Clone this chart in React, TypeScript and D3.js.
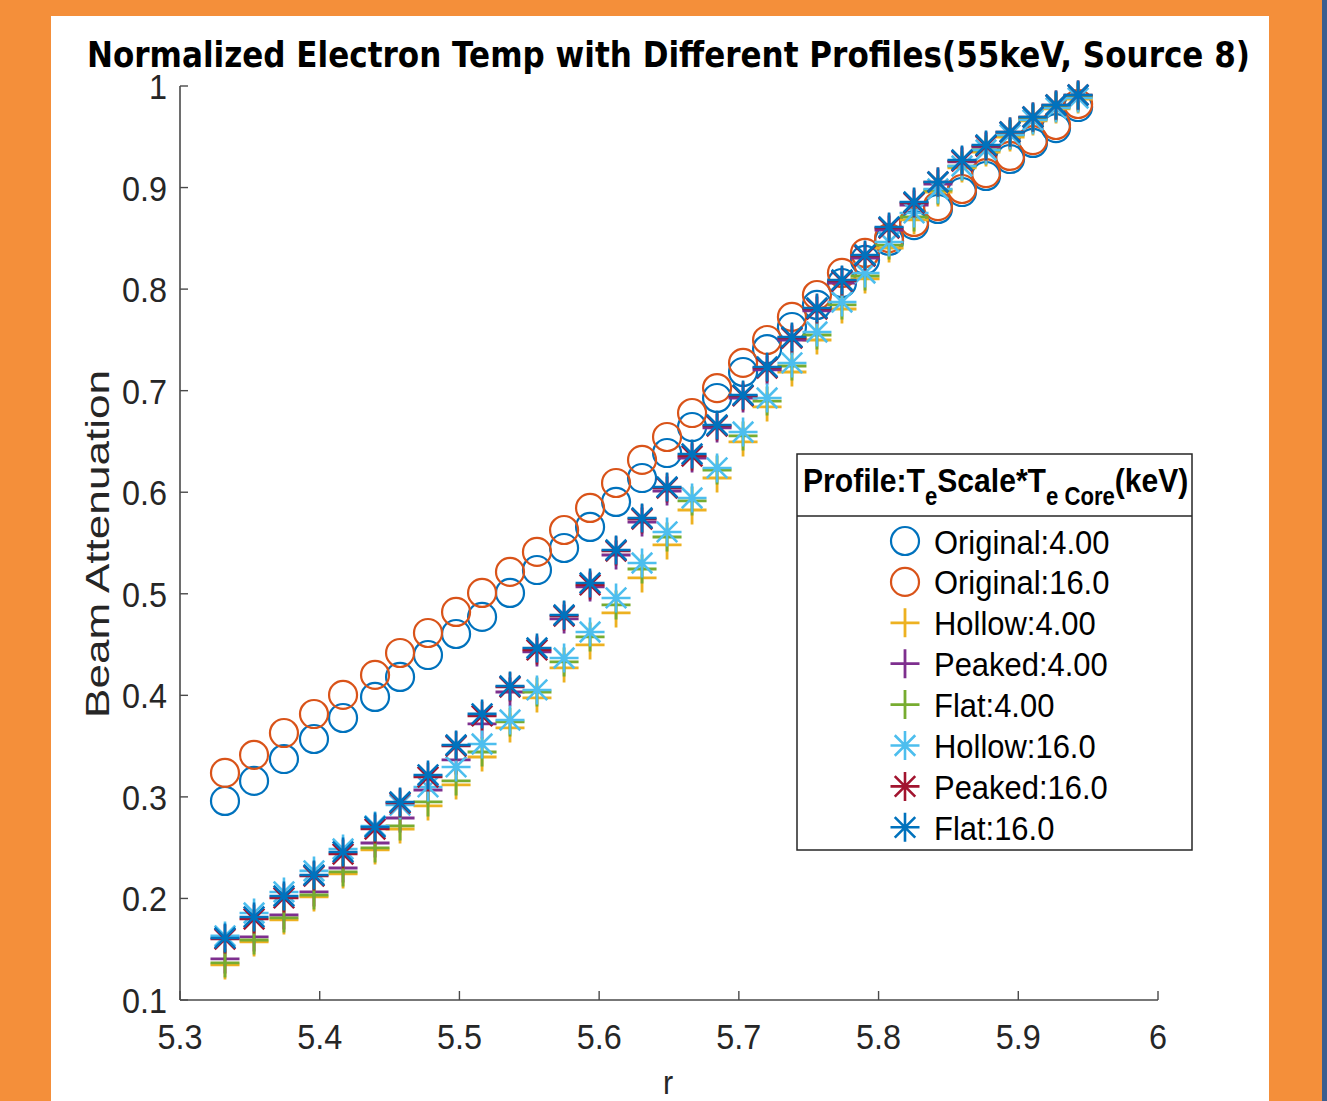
import React from "react";
import * as d3 from "d3";

// ---------- data ----------
const rValues = [5.3322, 5.3530, 5.3744, 5.3959, 5.4167, 5.4396, 5.4575, 5.4775, 5.4976, 5.5162, 5.5362, 5.5555, 5.5749, 5.5935, 5.6121, 5.6307, 5.6486, 5.6665, 5.6844, 5.7030, 5.7202, 5.7380, 5.7559, 5.7738, 5.7903, 5.8075, 5.8254, 5.8425, 5.8597, 5.8769, 5.8941, 5.9105, 5.9270, 5.9428];

const original4 = [0.2960, 0.3157, 0.3373, 0.3570, 0.3777, 0.3984, 0.4181, 0.4397, 0.4604, 0.4772, 0.5008, 0.5234, 0.5451, 0.5658, 0.5904, 0.6140, 0.6386, 0.6642, 0.6928, 0.7184, 0.7410, 0.7627, 0.7844, 0.8060, 0.8287, 0.8474, 0.8631, 0.8789, 0.8956, 0.9114, 0.9281, 0.9439, 0.9586, 0.9793];
const original16 = [0.3236, 0.3413, 0.3629, 0.3816, 0.4004, 0.4201, 0.4417, 0.4614, 0.4821, 0.5008, 0.5215, 0.5412, 0.5628, 0.5845, 0.6091, 0.6318, 0.6544, 0.6780, 0.7026, 0.7273, 0.7499, 0.7726, 0.7942, 0.8159, 0.8356, 0.8503, 0.8661, 0.8818, 0.8986, 0.9143, 0.9311, 0.9468, 0.9616, 0.9823];
const hollow4 = [0.1345, 0.1572, 0.1788, 0.2015, 0.2241, 0.2478, 0.2684, 0.2911, 0.3118, 0.3393, 0.3679, 0.3974, 0.4270, 0.4496, 0.4811, 0.5156, 0.5481, 0.5825, 0.6140, 0.6495, 0.6840, 0.7184, 0.7499, 0.7804, 0.8100, 0.8405, 0.8681, 0.8956, 0.9193, 0.9350, 0.9498, 0.9656, 0.9774, 0.9872];
const peaked4 = [0.1404, 0.1621, 0.1837, 0.2064, 0.2300, 0.2546, 0.2792, 0.3068, 0.3364, 0.3718, 0.4033, 0.4427, 0.4752, 0.5067, 0.5382, 0.5707, 0.6012, 0.6337, 0.6633, 0.6928, 0.7204, 0.7499, 0.7785, 0.8060, 0.8306, 0.8582, 0.8828, 0.9035, 0.9252, 0.9399, 0.9527, 0.9685, 0.9803, 0.9901];
const flat4 = [0.1365, 0.1591, 0.1808, 0.2034, 0.2261, 0.2497, 0.2714, 0.2950, 0.3157, 0.3442, 0.3738, 0.4033, 0.4329, 0.4575, 0.4890, 0.5244, 0.5559, 0.5914, 0.6219, 0.6554, 0.6898, 0.7243, 0.7548, 0.7844, 0.8129, 0.8434, 0.8710, 0.8976, 0.9212, 0.9370, 0.9518, 0.9675, 0.9793, 0.9892];
const hollow16 = [0.1631, 0.1857, 0.2064, 0.2271, 0.2487, 0.2714, 0.2920, 0.3098, 0.3295, 0.3521, 0.3757, 0.4053, 0.4368, 0.4624, 0.4959, 0.5303, 0.5609, 0.5943, 0.6239, 0.6593, 0.6928, 0.7273, 0.7578, 0.7873, 0.8159, 0.8464, 0.8750, 0.8986, 0.9212, 0.9370, 0.9518, 0.9665, 0.9783, 0.9882];
const peaked16 = [0.1601, 0.1798, 0.2005, 0.2221, 0.2438, 0.2684, 0.2940, 0.3196, 0.3501, 0.3797, 0.4082, 0.4447, 0.4781, 0.5087, 0.5421, 0.5736, 0.6042, 0.6357, 0.6652, 0.6948, 0.7223, 0.7519, 0.7804, 0.8080, 0.8326, 0.8602, 0.8848, 0.9055, 0.9261, 0.9409, 0.9547, 0.9695, 0.9813, 0.9911];
const flat16 = [0.1611, 0.1818, 0.2024, 0.2231, 0.2458, 0.2704, 0.2950, 0.3216, 0.3511, 0.3817, 0.4092, 0.4466, 0.4791, 0.5106, 0.5431, 0.5746, 0.6051, 0.6376, 0.6662, 0.6957, 0.7233, 0.7528, 0.7814, 0.8090, 0.8336, 0.8612, 0.8858, 0.9055, 0.9271, 0.9419, 0.9547, 0.9695, 0.9813, 0.9911];

const seriesNames = ["Original:4.00", "Original:16.0", "Hollow:4.00", "Peaked:4.00", "Flat:4.00", "Hollow:16.0", "Peaked:16.0", "Flat:16.0"];
const seriesColors = ["#0072BD", "#D95319", "#EDB120", "#7E2F8E", "#77AC30", "#4DBEEE", "#A2142F", "#0072BD"];
const seriesMarkers = ["circle", "circle", "plus", "plus", "plus", "star", "star", "star"];
const seriesValues = [original4, original16, hollow4, peaked4, flat4, hollow16, peaked16, flat16];

const xTicks = [5.3, 5.4, 5.5, 5.6, 5.7, 5.8, 5.9, 6];
const xTickLabels = ["5.3", "5.4", "5.5", "5.6", "5.7", "5.8", "5.9", "6"];
const yTicks = [0.1, 0.2, 0.3, 0.4, 0.5, 0.6, 0.7, 0.8, 0.9, 1];
const yTickLabels = ["0.1", "0.2", "0.3", "0.4", "0.5", "0.6", "0.7", "0.8", "0.9", "1"];

const titleText = "Normalized Electron Temp with Different Profiles(55keV, Source 8)";
const xLabel = "r";
const yLabel = "Beam Attenuation";

// ---------- layout ----------
const W = 1327, H = 1101;
const PL = 180, PR = 1158, PT = 86, PB = 1000;
const FONT = "'Liberation Sans', Arial, sans-serif";

function Marker({ type, color, x, y }: { type: string; color: string; x: number; y: number }) {
  const s = 14.5;
  const d = s / Math.SQRT2;
  if (type === "circle") {
    return <circle cx={x} cy={y} r={14} fill="none" stroke={color} strokeWidth={2.2} />;
  }
  if (type === "plus") {
    return <path d={`M${x - s},${y}H${x + s}M${x},${y - s}V${y + s}`} stroke={color} strokeWidth={2.8} fill="none" />;
  }
  return (
    <path
      d={`M${x - s},${y}H${x + s}M${x},${y - s}V${y + s}M${x - d},${y - d}L${x + d},${y + d}M${x - d},${y + d}L${x + d},${y - d}`}
      stroke={color}
      strokeWidth={2.6}
      fill="none"
    />
  );
}

export default function App() {
  const x = d3.scaleLinear().domain([5.3, 6]).range([PL, PR]);
  const y = d3.scaleLinear().domain([0.1, 1]).range([PB, PT]);

  const series = seriesNames.map((name, i) => ({
    name,
    color: seriesColors[i],
    marker: seriesMarkers[i],
    points: rValues.map((r, j) => ({ r, v: seriesValues[i][j] })),
  }));

  const axisColor = "#4a4a4a";
  const legendX = 797, legendY = 454, legendW = 395, legendH = 396;
  const entryY0 = 541, entryDY = 40.9;

  return (
    <svg width={W} height={H} style={{ position: "absolute", left: 0, top: 0 }} xmlns="http://www.w3.org/2000/svg">
      <rect x={0} y={0} width={W} height={H} fill="#F48F3A" />
      <rect x={1322} y={0} width={5} height={H} fill="#3B5E8E" />
      <rect x={51} y={16} width={1218} height={H - 16} fill="#ffffff" />

      {/* markers */}
      {series.map((s, i) => (
        <g key={i}>
          {s.points.map((p, j) => (
            <Marker key={j} type={s.marker} color={s.color} x={x(p.r)} y={y(p.v)} />
          ))}
        </g>
      ))}

      {/* axes */}
      <line x1={PL} y1={PT} x2={PL} y2={PB} stroke={axisColor} strokeWidth={1.6} />
      <line x1={PL} y1={PB} x2={PR} y2={PB} stroke={axisColor} strokeWidth={1.6} />
      {yTicks.map((t, i) => (
        <g key={"yt" + i}>
          <line x1={PL} x2={PL + 8} y1={y(t)} y2={y(t)} stroke={axisColor} strokeWidth={1.4} />
          <text
            transform={`translate(${PL - 13},${y(t) + 13}) scale(0.9,1)`}
            textAnchor="end"
            fontFamily={FONT}
            fontSize={36}
            fill="#262626"
          >
            {yTickLabels[i]}
          </text>
        </g>
      ))}
      {xTicks.map((t, i) => (
        <g key={"xt" + i}>
          <line x1={x(t)} x2={x(t)} y1={PB} y2={PB - 9} stroke={axisColor} strokeWidth={1.4} />
          <text
            transform={`translate(${x(t)},${PB + 49}) scale(0.9,1)`}
            textAnchor="middle"
            fontFamily={FONT}
            fontSize={36}
            fill="#262626"
          >
            {xTickLabels[i]}
          </text>
        </g>
      ))}

      {/* axis labels */}
      <text
        transform={`translate(${(PL + PR) / 2 - 1},1094) scale(0.9,1)`}
        textAnchor="middle"
        fontFamily={FONT}
        fontSize={34}
        fill="#262626"
      >
        {xLabel}
      </text>
      <text
        transform={`translate(109,544) rotate(-90)`}
        textAnchor="middle"
        fontFamily={FONT}
        fontSize={33}
        fill="#262626"
        textLength={348}
        lengthAdjust="spacingAndGlyphs"
      >
        {yLabel}
      </text>

      {/* title */}
      <text
        x={87}
        y={67}
        fontFamily="'DejaVu Sans', Verdana, sans-serif"
        fontWeight="bold"
        fontSize={36}
        fill="#000000"
        textLength={1163}
        lengthAdjust="spacingAndGlyphs"
      >
        {titleText}
      </text>

      {/* legend */}
      <rect x={legendX} y={legendY} width={legendW} height={legendH} fill="#ffffff" stroke="#262626" strokeWidth={1.5} />
      <line x1={legendX} x2={legendX + legendW} y1={516} y2={516} stroke="#262626" strokeWidth={1.5} />
      <text
        transform={`translate(803,492) scale(0.885,1)`}
        fontFamily={FONT}
        fontWeight="bold"
        fontSize={34}
        fill="#000000"
      >
        <tspan>Profile:T</tspan>
        <tspan dy={13} fontSize={25}>e</tspan>
        <tspan dy={-13}>Scale*T</tspan>
        <tspan dy={13} fontSize={25}>e Core</tspan>
        <tspan dy={-13}>(keV)</tspan>
      </text>
      {series.map((s, i) => {
        const cy = entryY0 + i * entryDY;
        return (
          <g key={"lg" + i}>
            <Marker type={s.marker} color={s.color} x={905} y={cy} />
            <text
              transform={`translate(934,${cy + 12.5}) scale(0.91,1)`}
              fontFamily={FONT}
              fontSize={34}
              fill="#000000"
            >
              {s.name}
            </text>
          </g>
        );
      })}
    </svg>
  );
}
